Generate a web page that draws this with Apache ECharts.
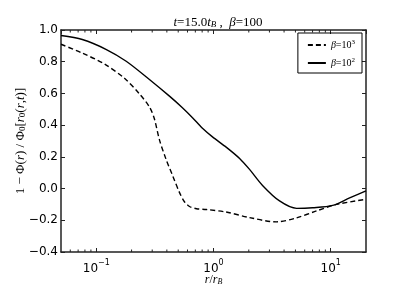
<!DOCTYPE html>
<html><head><meta charset="utf-8">
<script src="https://cdn.jsdelivr.net/npm/echarts@6/dist/echarts.min.js"></script>
<style>html,body{margin:0;padding:0;background:#fff}#c{width:407px;height:305px}</style>
</head><body><div id="c"></div>
<script>
// r / r_B sample positions and curve values
var rSolid = [0.05, 0.076, 0.122, 0.18, 0.284, 0.421, 0.543, 0.662, 0.805, 0.98, 1.29, 1.67, 2.03, 2.62, 3.66, 5.12, 7.01, 10.4, 14.5, 20];
var vSolid = [0.965, 0.94, 0.877, 0.803, 0.688, 0.583, 0.51, 0.447, 0.38, 0.326, 0.26, 0.19, 0.121, 0.02, -0.078, -0.125, -0.121, -0.106, -0.059, -0.015];
var rDashed = [0.05, 0.074, 0.118, 0.176, 0.233, 0.284, 0.313, 0.345, 0.394, 0.449, 0.512, 0.565, 0.624, 0.716, 0.871, 1.28, 2.03, 3.43, 5.09, 7.55, 11.2, 20];
var vDashed = [0.91, 0.858, 0.785, 0.692, 0.598, 0.515, 0.44, 0.31, 0.184, 0.08, -0.024, -0.083, -0.113, -0.127, -0.132, -0.148, -0.183, -0.21, -0.185, -0.141, -0.1, -0.068];
var seriesNames = ['β=10^3', 'β=10^2'];
var minorTicks = [0.06, 0.07, 0.08, 0.09, 0.2, 0.3, 0.4, 0.5, 0.6, 0.7, 0.8, 0.9, 2, 3, 4, 5, 6, 7, 8, 9];
var xMin = 0.05, xMax = 20, yMin = -0.4, yMax = 1.0, yStep = 0.2;

function zip(a, b) { return a.map(function (v, i) { return [v, b[i]]; }); }
var serif = 'Liberation Serif';
var chart = echarts.init(document.getElementById('c'), null, {renderer: 'canvas'});
var axisLine = {show: true, onZero: false, lineStyle: {color: '#222', width: 1.5}};
var tick = {inside: true, length: 4, lineStyle: {color: '#222', width: 1}};
chart.setOption({
  animation: false,
  backgroundColor: '#fff',
  title: {
    text: '{i|t}{n|=15.0}{i|t}{sub|B}{n| ,  }{i|β}{n|=100}',
    left: 213, textAlign: 'center', top: 11,
    textStyle: {
      fontWeight: 'normal',
      rich: {
        i: {fontFamily: serif, fontStyle: 'italic', fontWeight: 'normal', fontSize: 13, color: '#000'},
        n: {fontFamily: serif, fontWeight: 'normal', fontSize: 13, color: '#000'},
        sub: {fontFamily: serif, fontStyle: 'italic', fontWeight: 'normal', fontSize: 9, color: '#000', verticalAlign: 'bottom', lineHeight: 10}
      }
    }
  },
  legend: {
    orient: 'vertical', right: 45, top: 33,
    data: seriesNames,
    borderColor: '#000', borderWidth: 1, borderRadius: 0,
    padding: [6, 7, 5, 9], itemGap: 7, itemWidth: 18, itemHeight: 10,
    itemStyle: {opacity: 0},
    formatter: function (n) { var p = n.split('^'); return '{i|β}{n|=10}{s|' + p[1] + '}'; },
    textStyle: {
      rich: {
        i: {fontFamily: serif, fontStyle: 'italic', fontSize: 10, color: '#000', lineHeight: 12},
        n: {fontFamily: serif, fontSize: 10, color: '#000', lineHeight: 12},
        s: {fontFamily: serif, fontSize: 7, color: '#000', verticalAlign: 'top', lineHeight: 8}
      }
    }
  },
  grid: {left: 61, right: 41, top: 30, bottom: 53},
  xAxis: [{
    type: 'log', logBase: 10, min: xMin, max: xMax, position: 'bottom',
    name: '{i|r}{n|/}{i|r}{sub|B}', nameLocation: 'middle', nameGap: 22, nameMoveOverlap: false,
    nameTextStyle: {
      rich: {
        i: {fontFamily: serif, fontStyle: 'italic', fontSize: 12, color: '#000'},
        n: {fontFamily: serif, fontSize: 12, color: '#000'},
        sub: {fontFamily: serif, fontStyle: 'italic', fontSize: 8, color: '#000', verticalAlign: 'bottom', lineHeight: 9}
      }
    },
    axisLine: axisLine, axisTick: tick,
    splitLine: {show: false}, minorTick: {show: false},
    axisLabel: {
      showMinLabel: false, showMaxLabel: false, margin: 7,
      formatter: function (v) { var e = Math.round(Math.log10(v)); return '{b|10}{s|' + String(e).replace('-', '−') + '}'; },
      rich: {
        b: {fontFamily: 'DejaVu Sans', fontSize: 12, color: '#000', lineHeight: 16, verticalAlign: 'bottom'},
        s: {fontFamily: 'DejaVu Sans', fontSize: 8, color: '#000', lineHeight: 9, verticalAlign: 'top'}
      }
    }
  }, {
    type: 'log', logBase: 10, min: xMin, max: xMax, position: 'top',
    axisLine: axisLine, axisTick: tick,
    axisLabel: {show: false}, splitLine: {show: false}
  }],
  yAxis: [{
    type: 'value', min: yMin, max: yMax, interval: yStep, position: 'left',
    name: '{n|1 − Φ(}{i|r}{n|) / Φ}{sub|0}{n|[}{i|r}{sub|0}{n|(}{i|r}{n|,}{i|t}{n|)]}',
    nameLocation: 'middle', nameGap: 34, nameRotate: 90, nameMoveOverlap: false,
    nameTextStyle: {
      rich: {
        i: {fontFamily: serif, fontStyle: 'italic', fontSize: 13, color: '#000'},
        n: {fontFamily: serif, fontSize: 13, color: '#000'},
        sub: {fontFamily: serif, fontSize: 9, color: '#000', verticalAlign: 'bottom', lineHeight: 10}
      }
    },
    axisLine: axisLine, axisTick: tick,
    splitLine: {show: false},
    axisLabel: {
      fontFamily: 'DejaVu Sans', fontSize: 12, color: '#000', margin: 3,
      formatter: function (v) { return v.toFixed(1).replace('-', '−'); }
    }
  }, {
    type: 'value', min: yMin, max: yMax, interval: yStep, position: 'right',
    axisLine: axisLine, axisTick: tick,
    axisLabel: {show: false}, splitLine: {show: false}
  }],
  series: [{
    name: seriesNames[0], type: 'line', data: zip(rDashed, vDashed), smooth: 0.3,
    symbol: 'none', color: '#000',
    lineStyle: {color: '#000', width: 1.4, type: [5, 3]}
  }, {
    name: seriesNames[1], type: 'line', data: zip(rSolid, vSolid), smooth: 0.3,
    symbol: 'none', color: '#000',
    lineStyle: {color: '#000', width: 1.4}
  }, {
    type: 'custom', silent: true, clip: false,
    data: minorTicks.map(function (v) { return [v, yMin]; }),
    encode: {x: 0, y: 1},
    renderItem: function (params, api) {
      var x = api.value(0);
      var b = api.coord([x, yMin]);
      var t = api.coord([x, yMax]);
      var st = {stroke: '#222', lineWidth: 1};
      return {type: 'group', children: [
        {type: 'line', shape: {x1: b[0], y1: b[1], x2: b[0], y2: b[1] - 2.5}, style: st},
        {type: 'line', shape: {x1: t[0], y1: t[1], x2: t[0], y2: t[1] + 2.5}, style: st}
      ]};
    }
  }]
});
</script></body></html>
